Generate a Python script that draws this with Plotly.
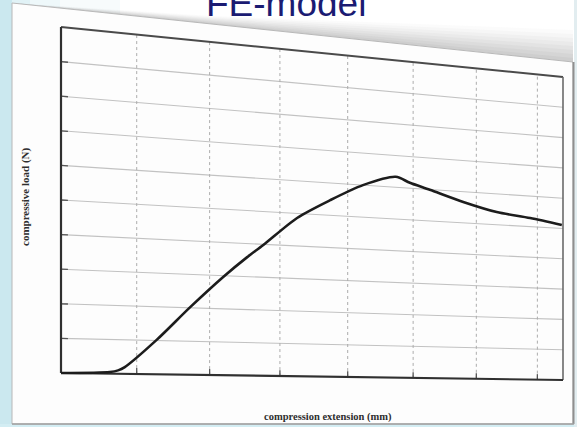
import numpy as np
import plotly.graph_objects as go

# FE-model curve: compression extension vs compressive load (in grid units of the original plot)
extension = [0.00, 0.64, 0.75, 0.84, 1.27, 1.73, 2.19, 2.53, 2.76, 3.25, 3.74,
             4.23, 4.73, 4.95, 5.26, 5.79, 6.33, 6.88, 7.41]
load = [0.00, 0.05, 0.10, 0.20, 1.02, 2.02, 2.96, 3.59, 3.98, 4.86, 5.47,
        6.00, 6.33, 6.17, 5.99, 5.67, 5.41, 5.28, 5.11]

x_gridlines = [1, 2, 3, 4, 5, 6, 7]
y_gridlines = [1, 2, 3, 4, 5, 6, 7, 8, 9]
x_max = 7.43
y_max = 10.0

title_text = "FE-model"
x_title = "compression extension (mm)"
y_title = "compressive load (N)"

W, H = 577, 427

# The printed chart is photographed at an angle: its plot box is a
# keystone-shaped quad on the page (left/right edges stay vertical).
BOX_L, BOX_R = 61.0, 563.0
TOP_L, TOP_R = 27.0, 77.0
BOT_L, BOT_R = 373.0, 380.0
G = (BOT_L - TOP_L) / (BOT_R - TOP_R) - 1.0


def project(gx, gy):
    """Map chart units onto the tilted page (projective transform)."""
    u = np.asarray(gx, dtype=float) / x_max
    v = np.asarray(gy, dtype=float) / y_max
    px = BOX_L + (BOX_R - BOX_L) * (1 + G) * u / (1 + G * u)
    f = (px - BOX_L) / (BOX_R - BOX_L)
    top = TOP_L + f * (TOP_R - TOP_L)
    bot = BOT_L + f * (BOT_R - BOT_L)
    py = bot - v * (bot - top)
    return px, py


def segments(pairs):
    xs, ys = [], []
    for (x0, y0), (x1, y1) in pairs:
        px, py = project([x0, x1], [y0, y1])
        xs += list(px) + [None]
        ys += list(py) + [None]
    return xs, ys


fig = go.Figure()

# ---- page / background decoration -------------------------------------------
shapes = []
# cyan backdrop fading to white toward the right
cyan_steps = [(0, 12, "#cbe8ef"), (12, 30, "#e1f2f6"), (30, 60, "#eef8fa"), (60, 120, "#f7fbfc")]
for x0, x1, col in cyan_steps:
    shapes.append(dict(type="rect", xref="x", yref="y", x0=x0, x1=x1, y0=0, y1=H,
                       fillcolor=col, line_width=0, layer="below"))
shapes.append(dict(type="rect", xref="x", yref="y", x0=0, x1=W, y0=424, y1=H,
                   fillcolor="#d3edf3", line_width=0, layer="below"))
shapes.append(dict(type="rect", xref="x", yref="y", x0=574, x1=W, y0=0, y1=H,
                   fillcolor="#e2edf0", line_width=0, layer="below"))

# soft shadow above the top edge of the sheet, growing toward the right
PAGE_L, PAGE_R = 12.0, 573.0
PAGE_TL, PAGE_TR = 3.0, 62.0
for k, op in zip(range(8, 0, -1), [0.04, 0.05, 0.06, 0.07, 0.08, 0.09, 0.10, 0.12]):
    depth = 4.0 * k
    path = (f"M {PAGE_L},{PAGE_TL} L {PAGE_R},{PAGE_TR} "
            f"L {PAGE_R},{PAGE_TR - depth} L {PAGE_L + 200},{PAGE_TL + (PAGE_TR - PAGE_TL) * 200 / (PAGE_R - PAGE_L) - depth * 0.25} Z")
    shapes.append(dict(type="path", xref="x", yref="y", path=path,
                       fillcolor="#9a9a9a", opacity=op, line_width=0, layer="below"))

# the white sheet itself
sheet = f"M {PAGE_L},{PAGE_TL} L {PAGE_R},{PAGE_TR} L {PAGE_R},424 L {PAGE_L},424 Z"
shapes.append(dict(type="path", xref="x", yref="y", path=sheet,
                   fillcolor="#fdfdfd", line=dict(color="#b8b8b8", width=1), layer="below"))
shapes.append(dict(type="line", xref="x", yref="y", x0=PAGE_R + 0.5, x1=PAGE_R + 0.5,
                   y0=PAGE_TR, y1=424, line=dict(color="#8f8f8f", width=2), layer="below"))
shapes.append(dict(type="line", xref="x", yref="y", x0=PAGE_L, x1=PAGE_R + 1,
                   y0=424, y1=424, line=dict(color="#a0a0a0", width=1.5), layer="below"))

# ---- gridlines ----------------------------------------------------------------
hx, hy = segments([((0, g), (x_max, g)) for g in y_gridlines])
fig.add_trace(go.Scatter(x=hx, y=hy, mode="lines", hoverinfo="skip",
                         line=dict(color="#c2c2c2", width=1.1)))
vx, vy = segments([((g, 0), (g, y_max)) for g in x_gridlines])
fig.add_trace(go.Scatter(x=vx, y=vy, mode="lines", hoverinfo="skip",
                         line=dict(color="#acacac", width=1, dash="dot")))

# tick marks on the left and bottom axes
tx, ty = segments([((0, g), (0.09, g)) for g in y_gridlines] +
                  [((g, 0), (g, 0.18)) for g in x_gridlines])
fig.add_trace(go.Scatter(x=tx, y=ty, mode="lines", hoverinfo="skip",
                         line=dict(color="#555555", width=1.3)))

# ---- plot frame ---------------------------------------------------------------
frame_parts = [
    (((0, y_max), (x_max, y_max)), "#4a4a4a", 2.0),
    (((x_max, 0), (x_max, y_max)), "#6a6a6a", 1.6),
    (((0, 0), (x_max, 0)), "#303030", 2.2),
    (((0, 0), (0, y_max)), "#303030", 2.2),
]
for seg, col, wd in frame_parts:
    fx, fy = segments([seg])
    fig.add_trace(go.Scatter(x=fx, y=fy, mode="lines", hoverinfo="skip",
                             line=dict(color=col, width=wd)))

# ---- the load curve -----------------------------------------------------------
cx, cy = project(extension, load)
fig.add_trace(go.Scatter(x=cx, y=cy, mode="lines",
                         line=dict(color="#1c1c1c", width=2.6, shape="spline", smoothing=0.8)))

# ---- text ---------------------------------------------------------------------
annotations = [
    dict(text=title_text, x=286, y=26, xref="x", yref="y", showarrow=False,
         xanchor="center", yanchor="bottom",
         font=dict(family="Liberation Sans, Arial", size=37, color="#1b1b72")),
    dict(text=f"<b>{x_title}</b>", x=328, y=417, xref="x", yref="y", showarrow=False,
         xanchor="center", yanchor="middle",
         font=dict(family="Liberation Serif, Times New Roman", size=10.5, color="#2e2e2e")),
    dict(text=f"<b>{y_title}</b>", x=25, y=197, xref="x", yref="y", showarrow=False, textangle=-90,
         xanchor="center", yanchor="middle",
         font=dict(family="Liberation Serif, Times New Roman", size=11, color="#2e2e2e")),
]

fig.update_layout(
    width=W, height=H, autosize=False,
    margin=dict(l=0, r=0, t=0, b=0),
    paper_bgcolor="#ffffff", plot_bgcolor="#ffffff",
    showlegend=False,
    shapes=shapes,
    annotations=annotations,
    xaxis=dict(range=[0, W], visible=False, fixedrange=True),
    yaxis=dict(range=[H, 0], visible=False, fixedrange=True),
)

fig.write_html("out.html")
